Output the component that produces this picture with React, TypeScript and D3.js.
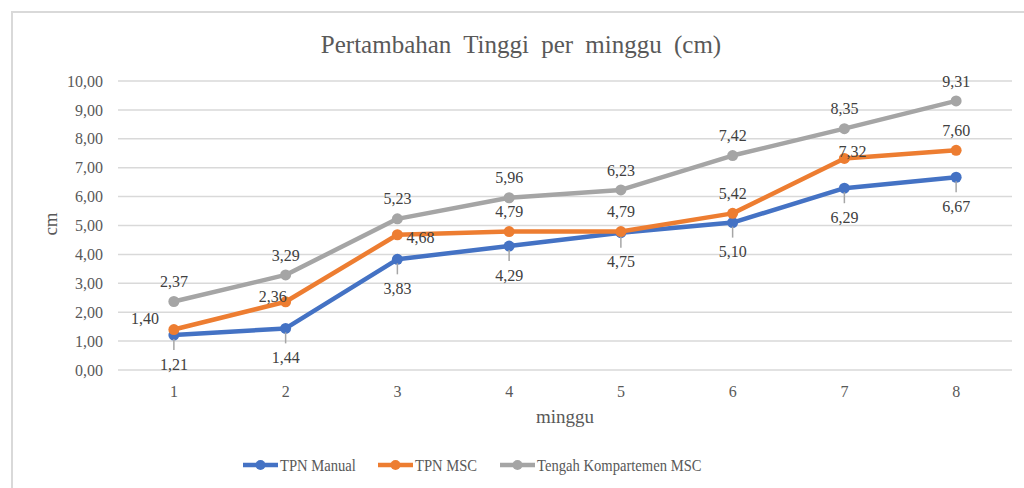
import React, { useEffect, useRef } from 'react';
import * as d3 from 'd3';

const weeks = ['1', '2', '3', '4', '5', '6', '7', '8'];
const tpnManual = [1.21, 1.44, 3.83, 4.29, 4.75, 5.10, 6.29, 6.67];
const tpnMsc = [1.40, 2.36, 4.68, 4.79, 4.79, 5.42, 7.32, 7.60];
const tengahMsc = [2.37, 3.29, 5.23, 5.96, 6.23, 7.42, 8.35, 9.31];
const yTicks = [0, 1, 2, 3, 4, 5, 6, 7, 8, 9, 10];

const seriesNames = ['TPN Manual', 'TPN MSC', 'Tengah Kompartemen MSC'];
const seriesColors = ['#4472c4', '#ed7d31', '#a5a5a5'];

// hand-moved data labels (like in the excel chart): [series][point] -> [dx, dy]
const labelNudge: Record<string, [number, number]> = {
  '1-0': [-29, -11],
  '1-1': [-13, -5],
  '1-2': [23, 3],
  '1-6': [8, -7],
};

const font = '"Liberation Serif", "Times New Roman", serif';
const fmt = (v: number) => v.toFixed(2).replace('.', ',');

export default function App() {
  const ref = useRef<SVGSVGElement>(null);

  useEffect(() => {
    const W = 1024, H = 488;
    const svg = d3.select(ref.current);
    svg.selectAll('*').remove();

    const margin = { left: 118, right: 12, top: 81, bottom: 118 };
    const x = d3.scaleBand().domain(weeks).range([margin.left, W - margin.right]);
    const y = d3.scaleLinear().domain([0, 10]).range([H - margin.bottom, margin.top]);
    const cx = (i: number) => (x(weeks[i]) as number) + x.bandwidth() / 2;

    // chart border (only top/left visible in the crop)
    svg.append('rect')
      .attr('x', 12).attr('y', 12)
      .attr('width', 1040).attr('height', 520)
      .attr('fill', '#fff').attr('stroke', '#d9d9d9').attr('stroke-width', 2);

    svg.append('text')
      .attr('x', 521).attr('y', 53)
      .attr('text-anchor', 'middle')
      .attr('font-family', font).attr('font-size', 25)
      .attr('word-spacing', 6)
      .attr('fill', '#595959')
      .text('Pertambahan Tinggi per minggu (cm)');

    // grid + y labels
    const grid = svg.append('g');
    grid.selectAll('line').data(yTicks).enter().append('line')
      .attr('x1', margin.left).attr('x2', W - margin.right)
      .attr('y1', (d) => y(d)).attr('y2', (d) => y(d))
      .attr('stroke', '#d9d9d9').attr('stroke-width', 1.5);
    grid.selectAll('text').data(yTicks).enter().append('text')
      .attr('x', 103).attr('y', (d) => y(d))
      .attr('dy', '0.35em')
      .attr('text-anchor', 'end')
      .attr('font-family', font).attr('font-size', 16)
      .attr('fill', '#595959')
      .text((d) => fmt(d));

    svg.append('g').selectAll('text').data(weeks).enter().append('text')
      .attr('x', (d, i) => cx(i)).attr('y', 397)
      .attr('text-anchor', 'middle')
      .attr('font-family', font).attr('font-size', 16)
      .attr('fill', '#595959')
      .text((d) => d);

    svg.append('text')
      .attr('x', 565).attr('y', 423)
      .attr('text-anchor', 'middle')
      .attr('font-family', font).attr('font-size', 19)
      .attr('fill', '#595959')
      .text('minggu');

    svg.append('text')
      .attr('transform', 'translate(57,224) rotate(-90)')
      .attr('text-anchor', 'middle')
      .attr('font-family', font).attr('font-size', 19)
      .attr('fill', '#595959')
      .text('cm');

    const allSeries = [tpnManual, tpnMsc, tengahMsc];
    const line = d3.line<number>().x((d, i) => cx(i)).y((d) => y(d));

    allSeries.forEach((vals, s) => {
      const g = svg.append('g');
      g.append('path').datum(vals)
        .attr('d', line)
        .attr('fill', 'none')
        .attr('stroke', seriesColors[s])
        .attr('stroke-width', 4.5)
        .attr('stroke-linejoin', 'round')
        .attr('stroke-linecap', 'round');
      g.selectAll('circle').data(vals).enter().append('circle')
        .attr('cx', (d, i) => cx(i)).attr('cy', (d) => y(d))
        .attr('r', 5.5)
        .attr('fill', seriesColors[s]);
    });

    // data labels
    allSeries.forEach((vals, s) => {
      const g = svg.append('g');
      vals.forEach((v, i) => {
        let lx = cx(i);
        let ly = y(v);
        if (s === 0) {
          // below with leader line
          g.append('line')
            .attr('x1', lx).attr('x2', lx)
            .attr('y1', ly + 4).attr('y2', ly + 15)
            .attr('stroke', '#a6a6a6').attr('stroke-width', 1.5);
          ly += 29;
        } else {
          const n = labelNudge[s + '-' + i];
          if (n) { lx += n[0]; ly += n[1]; }
          else ly -= 20;
        }
        g.append('text')
          .attr('x', lx).attr('y', ly)
          .attr('dy', '0.35em')
          .attr('text-anchor', 'middle')
          .attr('font-family', font).attr('font-size', 16)
          .attr('fill', '#404040')
          .text(fmt(v));
      });
    });

    // legend (text looks horizontally squeezed in the original)
    const legX = [243, 378, 500];
    const leg = svg.append('g');
    seriesNames.forEach((name, s) => {
      const lg = leg.append('g').attr('transform', `translate(${legX[s]},465)`);
      lg.append('line').attr('x1', 0).attr('x2', 35)
        .attr('stroke', seriesColors[s]).attr('stroke-width', 4.5);
      lg.append('circle').attr('cx', 17.5).attr('r', 5).attr('fill', seriesColors[s]);
      lg.append('text')
        .attr('transform', 'translate(37,0) scale(0.86,1)')
        .attr('dy', '0.35em')
        .attr('font-family', font).attr('font-size', 17)
        .attr('fill', '#595959')
        .text(name);
    });
  }, []);

  return (
    <svg ref={ref} width={1024} height={488}
      style={{ position: 'absolute', left: 0, top: 0, background: '#fff' }} />
  );
}
